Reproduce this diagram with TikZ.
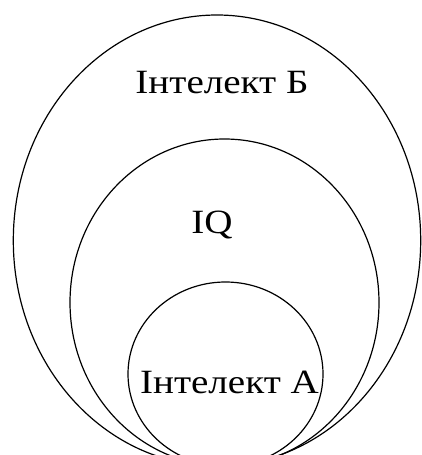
\documentclass[tikz,border=0pt]{standalone}
\usepackage{fontspec}
\setmainfont[FakeStretch=1.15]{Liberation Serif}
\begin{document}
\begin{tikzpicture}[x=1pt,y=-1pt,
  ring/.style={draw=black,line width=1.2pt},
  lbl/.style={inner sep=0pt,anchor=base,font=\fontsize{34}{40}\selectfont}]
\useasboundingbox (0,0) rectangle (422,455);
\clip (0,0) rectangle (422,455);
\draw[ring] (217,240.5) ellipse [x radius=203.7, y radius=225.5];
\draw[ring] (224.5,302.5) ellipse [x radius=154.5, y radius=163.5];
\draw[ring] (225.5,374) ellipse [x radius=97.5, y radius=92];
\node[lbl] (b) at (222,93.3) {Інтелект Б};
\node[lbl] (iq) at (212,233) {IQ};
\node[lbl] (a) at (229.5,393) {Інтелект А};
\end{tikzpicture}
\end{document}
